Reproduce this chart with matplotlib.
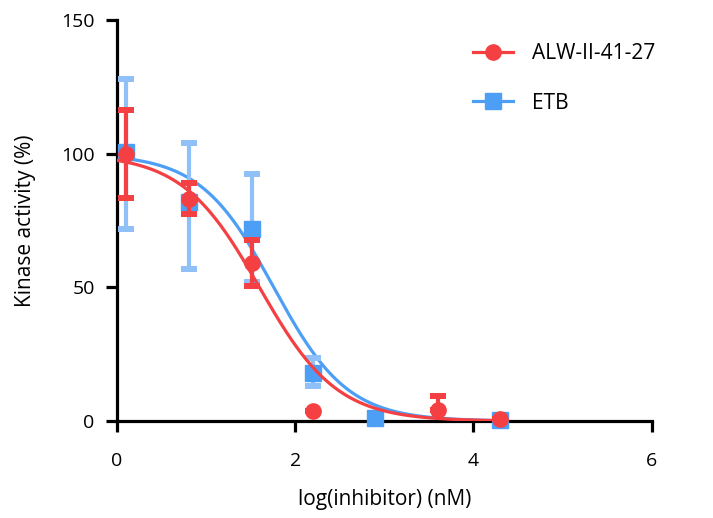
import numpy as np
import matplotlib
matplotlib.use("Agg")
import matplotlib.pyplot as plt

plt.rcParams['font.family'] = ['Open Sans', 'DejaVu Sans']

# measured points: log(inhibitor) vs kinase activity (%)
alw_x = [0.10, 0.81, 1.51, 2.20, 3.60, 4.30]
alw_y = [100.0, 83.0, 59.0, 3.7, 4.0, 0.8]
alw_lo = [83.4, 77.4, 50.5, 3.7, 4.0, 0.8]
alw_hi = [116.3, 89.1, 67.7, 3.7, 9.4, 0.8]

etb_x = [0.10, 0.81, 1.51, 2.20, 2.90, 4.30]
etb_y = [100.6, 82.0, 72.0, 18.0, 1.0, 0.5]
etb_lo = [72.0, 57.0, 52.0, 13.0, 1.0, 0.5]
etb_hi = [128.0, 104.0, 92.4, 23.6, 1.0, 0.5]

# fitted dose-response parameters (top, bottom, logIC50, hill slope)
alw_fit = (100.0, 0.0, 1.60, 1.0)
etb_fit = (100.0, 0.0, 1.76, 1.05)

red = '#f44042'
blue = '#4d9ff6'
blue_err = '#8fc0f8'


def curve(x, top, bottom, logic50, hill):
    return bottom + (top - bottom) / (1 + 10 ** (hill * (x - logic50)))


fig = plt.figure(figsize=(7.13, 5.18), dpi=100)
ax = fig.add_axes([0.164, 0.187, 0.750, 0.774])

xs = np.linspace(0, 4.3, 300)

# ETB first so ALW sits on top
ax.plot(xs, curve(xs, *etb_fit), color=blue, lw=2.3, zorder=2)
ey = np.array(etb_y)
ax.errorbar(etb_x, etb_y, yerr=[ey - np.array(etb_lo), np.array(etb_hi) - ey],
            fmt='none', ecolor=blue_err, elinewidth=3, capsize=5.5, capthick=4.3,
            zorder=3, clip_on=False)
ax.plot(etb_x, etb_y, 's', color=blue, ms=11, zorder=4, clip_on=False)

ax.plot(xs, curve(xs, *alw_fit), color=red, lw=2.3, zorder=5)
ay = np.array(alw_y)
ax.errorbar(alw_x, alw_y, yerr=[ay - np.array(alw_lo), np.array(alw_hi) - ay],
            fmt='none', ecolor=red, elinewidth=3, capsize=5.5, capthick=4.3,
            zorder=6, clip_on=False)
ax.plot(alw_x, alw_y, 'o', color=red, ms=11, zorder=7, clip_on=False)

# legend proxies
h1, = ax.plot([], [], '-o', color=red, lw=2.3, ms=11)
h2, = ax.plot([], [], '-s', color=blue, lw=2.3, ms=11)
ax.legend([h1, h2], ['ALW-II-41-27', 'ETB'], loc='upper left',
          bbox_to_anchor=(0.665, 0.942), borderaxespad=0, borderpad=0,
          frameon=False, fontsize=15, handlelength=1.95,
          labelspacing=1.35, handletextpad=0.9)

ax.set_xlim(0, 6)
ax.set_ylim(0, 150)
ax.set_xticks([0, 2, 4, 6])
ax.set_yticks([0, 50, 100, 150])
for s in ['top', 'right']:
    ax.spines[s].set_visible(False)
for s in ['left', 'bottom']:
    ax.spines[s].set_linewidth(2.3)
ax.tick_params(width=2.3, length=8, labelsize=14, pad=8)
ax.tick_params(axis='x', pad=14)
ax.set_xlabel('log(inhibitor) (nM)', fontsize=15, labelpad=14)
ax.set_ylabel('Kinase activity (%)', fontsize=15, labelpad=18)

fig.savefig('out.png', dpi=100)
